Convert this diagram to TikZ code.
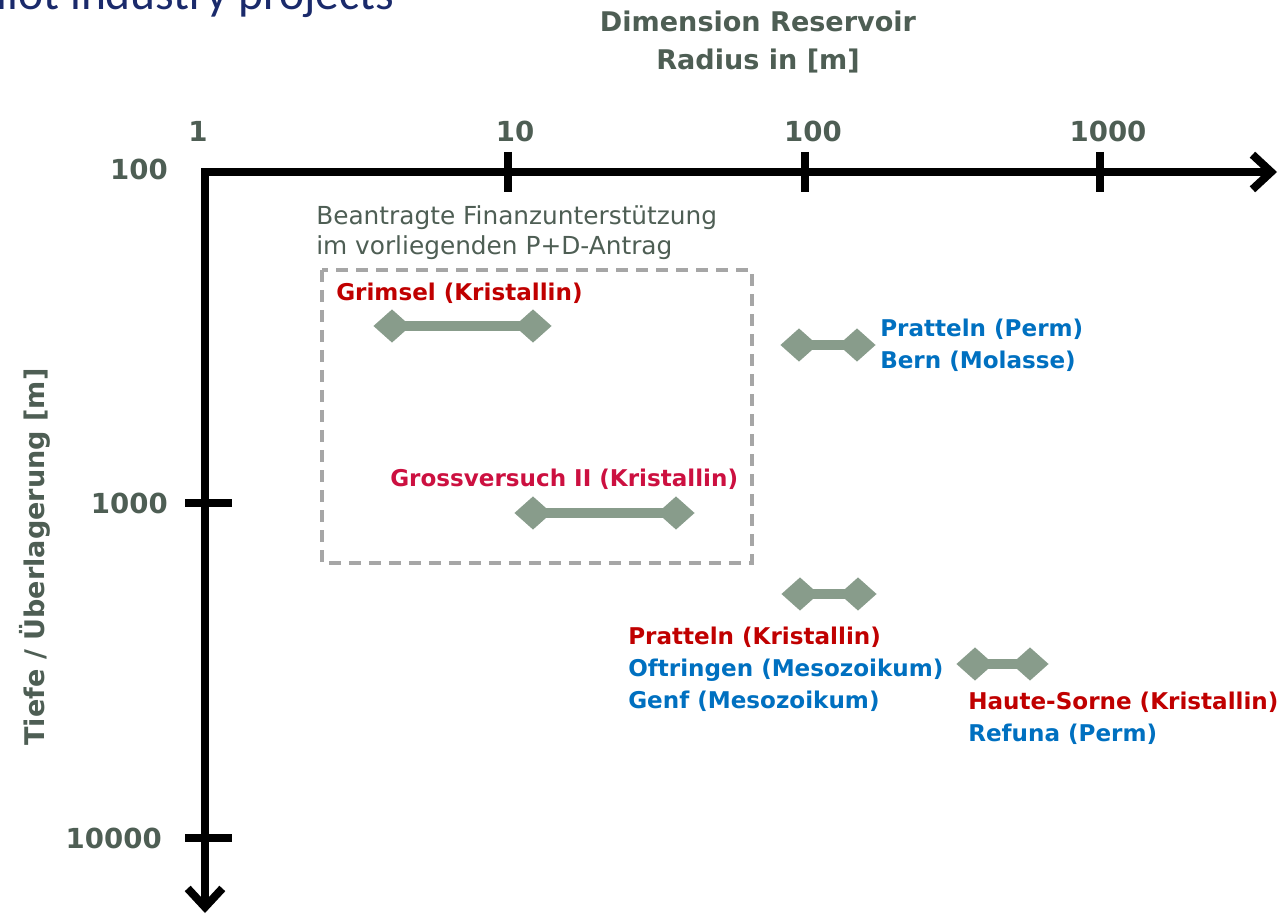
\documentclass[tikz,border=0pt]{standalone}
\usepackage{fontspec}
\setmainfont{DejaVu Sans}
\newfontfamily\titlefont{Carlito}
\usetikzlibrary{arrows.meta, shapes.geometric}
\definecolor{txtgrey}{RGB}{78,94,84}
\definecolor{barcol}{HTML}{889C8B}
\definecolor{boxgrey}{HTML}{A6A6A6}
\definecolor{redlab}{HTML}{C00000}
\definecolor{crimlab}{HTML}{CC1040}
\definecolor{bluelab}{HTML}{0070C0}
\definecolor{navy}{HTML}{1A2A6B}

\begin{document}
\begin{tikzpicture}[x=0.75pt, y=-0.75pt,
    axis/.style={line width=6pt, black},
    tip/.tip={Straight Barb[length=14pt, width=26pt, line join=miter]},
    diam/.style={diamond, fill=barcol, inner sep=0pt, minimum width=28pt, minimum height=25pt},
    bar/.style={line width=7.5pt, draw=barcol},
    fundbox/.style={draw=boxgrey, line width=3pt, dash pattern=on 9pt off 6pt},
    lab/.style={anchor=base west, inner sep=0pt, font=\bfseries\fontsize{17.3}{20}\selectfont},
    note/.style={anchor=base west, inner sep=0pt, text=txtgrey, font=\fontsize{18.6}{22}\selectfont},
    num/.style={anchor=base, inner sep=0pt, text=txtgrey, font=\bfseries\fontsize{20.7}{24}\selectfont},
    axtitle/.style={anchor=base, inner sep=0pt, text=txtgrey, font=\bfseries\fontsize{20.3}{24}\selectfont}]

    \useasboundingbox (0,0) rectangle (1279,916);

    % title, cut by the page edge
    \node[anchor=base west, inner sep=0pt, text=navy, font=\titlefont\fontsize{35.6}{40}\selectfont] (title) at (-28,10) {Pilot industry projects};

    % axes
    \coordinate (O) at (205,172);
    \coordinate (xend) at (1277,172);
    \coordinate (yend) at (205,913);
    \draw[axis, tip-tip] (yend) -- (O) -- (xend);
    \foreach \x in {508,805,1100}
        \draw[axis] (\x,152) -- (\x,192);
    \foreach \y in {503,838}
        \draw[axis] (185,\y) -- (232,\y);

    % tick labels
    \foreach \x/\t [count=\i] in {198/1,515/10,813/100,1108/1000}
        \node[num] (xl\i) at (\x,142) {\t};
    \node[num, anchor=base east] (yl1) at (168,180) {100};
    \node[num, anchor=base east] (yl2) at (168,513) {1000};
    \node[num, anchor=base east] (yl3) at (162,848) {10000};

    % axis titles
    \node[axtitle] (xt1) at (758,32) {Dimension Reservoir};
    \node[axtitle] (xt2) at (758,70) {Radius in [m]};
    \node[axtitle, anchor=center, rotate=90] (yt) at (35,557) {Tiefe / Überlagerung [m]};

    % requested funding
    \draw[fundbox] (322,270) rectangle (752,563);
    \node[note] (fund1) at (316,225) {Beantragte Finanzunterstützung};
    \node[note] (fund2) at (316,255) {im vorliegenden P+D-Antrag};

    % reservoir ranges
    \foreach \n/\a/\b/\y in {grim/392/533/326, gross/533/676/513, pperm/799/857/345, pkris/800/858/594, haute/975/1030/664} {
        \node[diam] (\n1) at (\a,\y) {};
        \node[diam] (\n2) at (\b,\y) {};
        \draw[bar] (\n1.center) -- (\n2.center);
    }

    % project labels
    \node[lab, text=redlab] (grimlab) at (336,301) {Grimsel (Kristallin)};
    \node[lab, text=crimlab] (grosslab) at (390,486) {Grossversuch II (Kristallin)};
    \node[lab, text=bluelab] (pratlab1) at (880,337) {Pratteln (Perm)};
    \node[lab, text=bluelab] (bernlab) at (880,369) {Bern (Molasse)};
    \node[lab, text=redlab] (pratlab2) at (628,644) {Pratteln (Kristallin)};
    \node[lab, text=bluelab] (oftlab) at (628,676) {Oftringen (Mesozoikum)};
    \node[lab, text=bluelab] (genflab) at (628,708) {Genf (Mesozoikum)};
    \node[lab, text=redlab] (hautelab) at (968,709) {Haute-Sorne (Kristallin)};
    \node[lab, text=bluelab] (refulab) at (968,741) {Refuna (Perm)};
\end{tikzpicture}
\end{document}
